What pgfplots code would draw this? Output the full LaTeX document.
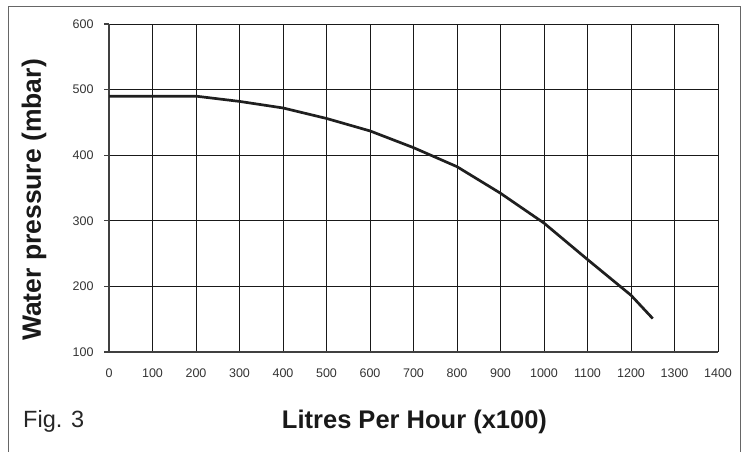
\documentclass[border=0pt]{standalone}
\usepackage{pgfplots}
\pgfplotsset{compat=1.18}
\usepackage{fontspec}
\setmainfont{Liberation Sans}
\begin{document}
\begin{tikzpicture}
\useasboundingbox (0,0) rectangle (747pt,452pt);
\draw[line width=0.9pt, color=black!60] (8pt,0) -- (8pt,446pt) -- (740pt,446pt) -- (740pt,0);
\begin{axis}[
  at={(109pt,100pt)}, anchor=south west,
  scale only axis, width=609pt, height=328pt,
  xmin=0, xmax=1400, ymin=100, ymax=600,
  xtick={0,100,...,1400}, ytick={100,200,...,600},
  axis lines*=left,
  axis line style={line width=1.4pt, color=black!75},
  grid=major,
  major grid style={line width=0.9pt, color=black!90},
  tick align=outside,
  major tick length=5pt,
  xtick style={draw=none},
  ytick style={line width=1.3pt, color=black!75},
  /pgf/number format/assume math mode=true,
  /pgf/number format/1000 sep={},
  ticklabel style={font=\fontsize{12.5}{14}\selectfont, color=black!80},
  yticklabel style={xshift=-7pt},
  xticklabel style={yshift=-8pt},
  clip=false,
]
\addplot[line width=2.7pt, color=black!88, line join=round] coordinates {
 (0,490) (200,490) (300,482) (400,472) (500,456) (600,437) (700,411.5)
 (800,382.5) (900,342) (1000,296.5) (1100,241) (1200,186.5) (1250,151)
};
\end{axis}
\node[rotate=90, font=\fontsize{26.5}{30}\selectfont\bfseries, color=black!90] at (34pt,252pt) {Water pressure (mbar)};
\node[anchor=base, font=\fontsize{25.5}{30}\selectfont\bfseries, color=black!90] at (414.5pt,23pt) {Litres Per Hour (x100)};
\node[anchor=base west, inner sep=0pt, font=\fontsize{23.5}{28}\selectfont, color=black!85] at (23pt,24.3pt) {Fig. 3};
\end{tikzpicture}
\end{document}
